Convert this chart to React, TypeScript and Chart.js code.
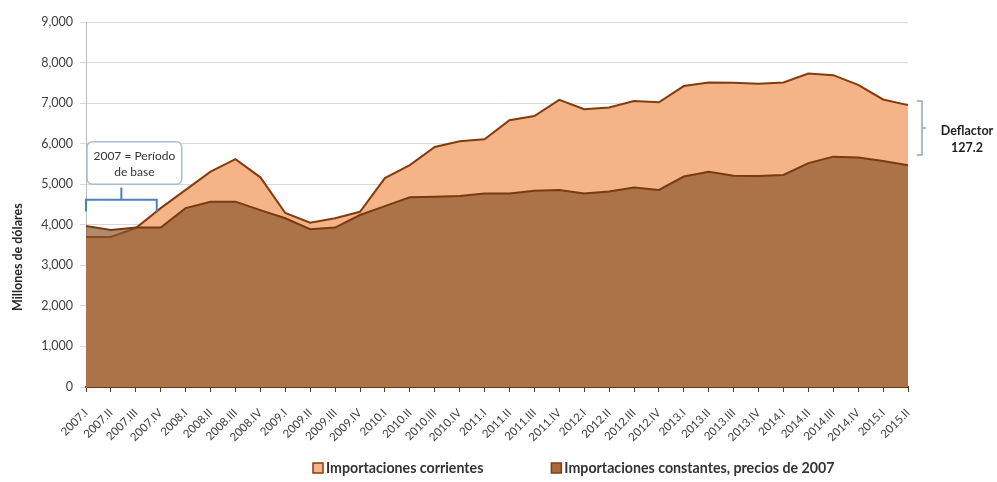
import React, { useEffect, useRef } from 'react';
import { Chart, registerables } from 'chart.js';

Chart.register(...registerables);

const categories = [
  '2007.I', '2007.II', '2007.III', '2007.IV',
  '2008.I', '2008.II', '2008.III', '2008.IV',
  '2009.I', '2009.II', '2009.III', '2009.IV',
  '2010.I', '2010.II', '2010.III', '2010.IV',
  '2011.I', '2011.II', '2011.III', '2011.IV',
  '2012.I', '2012.II', '2012.III', '2012.IV',
  '2013.I', '2013.II', '2013.III', '2013.IV',
  '2014.I', '2014.II', '2014.III', '2014.IV',
  '2015.I', '2015.II',
];

const corrientes = [
  3700, 3700, 3920, 4410,
  4860, 5310, 5620, 5170,
  4290, 4050, 4160, 4320,
  5150, 5470, 5920, 6060,
  6110, 6580, 6680, 7080,
  6850, 6890, 7050, 7020,
  7420, 7510, 7500, 7480,
  7510, 7730, 7690, 7450,
  7090, 6950,
];

const constantes = [
  3970, 3870, 3930, 3930,
  4410, 4570, 4570, 4360,
  4160, 3890, 3930, 4240,
  4460, 4680, 4690, 4710,
  4770, 4770, 4840, 4860,
  4770, 4820, 4920, 4860,
  5190, 5310, 5210, 5200,
  5230, 5520, 5680, 5660,
  5570, 5470,
];

const yTicks = [0, 1000, 2000, 3000, 4000, 5000, 6000, 7000, 8000, 9000];

const seriesNames = ['Importaciones corrientes', 'Importaciones constantes, precios de 2007'];
const yTitle = 'Millones de dólares';
const baseNote = ['2007 = Período', 'de base'];
const deflactorNote = ['Deflactor', '127.2'];

const FONT = 'Lato, "Open Sans", sans-serif';
const PEACH = '#F5B388';
const BROWN_LEGEND = '#A8693C';
const EDGE = '#843C0C';

const annotationPlugin = {
  id: 'notes',
  afterDraw(chart: any) {
    const { ctx, chartArea, scales } = chart;
    const x = scales.x;
    const y = scales.y;
    ctx.save();

    // Y axis title
    ctx.save();
    ctx.translate(18, y.getPixelForValue(3200));
    ctx.rotate(-Math.PI / 2);
    ctx.fillStyle = '#262626';
    ctx.font = `bold 12.5px ${FONT}`;
    ctx.textAlign = 'center';
    ctx.textBaseline = 'middle';
    ctx.fillText(yTitle, 0, 0);
    ctx.restore();

    // Base-period note box
    const bx0 = x.getPixelForValue(0) + 1;
    const bx1 = x.getPixelForValue(3) + 21;
    const by0 = y.getPixelForValue(6050);
    const by1 = y.getPixelForValue(5000);
    const r = 6;
    ctx.beginPath();
    ctx.moveTo(bx0 + r, by0);
    ctx.lineTo(bx1 - r, by0);
    ctx.quadraticCurveTo(bx1, by0, bx1, by0 + r);
    ctx.lineTo(bx1, by1 - r);
    ctx.quadraticCurveTo(bx1, by1, bx1 - r, by1);
    ctx.lineTo(bx0 + r, by1);
    ctx.quadraticCurveTo(bx0, by1, bx0, by1 - r);
    ctx.lineTo(bx0, by0 + r);
    ctx.quadraticCurveTo(bx0, by0, bx0 + r, by0);
    ctx.closePath();
    ctx.fillStyle = '#ffffff';
    ctx.fill();
    ctx.strokeStyle = '#A9BCD6';
    ctx.lineWidth = 1.5;
    ctx.stroke();

    ctx.fillStyle = '#333333';
    ctx.font = `12px ${FONT}`;
    ctx.textAlign = 'center';
    ctx.textBaseline = 'middle';
    const cx = (bx0 + bx1) / 2;
    ctx.fillText(baseNote[0], cx, by0 + 14);
    ctx.fillText(baseNote[1], cx, by0 + 30);

    // Base bracket
    const kx0 = x.getPixelForValue(0);
    const kx1 = x.getPixelForValue(3) - 4;
    const ky = y.getPixelForValue(4620);
    const kyDown = y.getPixelForValue(4330);
    const kyUp = y.getPixelForValue(4920);
    const kmid = (kx0 + kx1) / 2;
    ctx.strokeStyle = '#4F7FBF';
    ctx.lineWidth = 2;
    ctx.beginPath();
    ctx.moveTo(kx0, kyDown);
    ctx.lineTo(kx0, ky);
    ctx.lineTo(kx1, ky);
    ctx.lineTo(kx1, kyDown);
    ctx.moveTo(kmid, ky);
    ctx.lineTo(kmid, kyUp);
    ctx.stroke();

    // Deflactor bracket
    const dx = chartArea.right + 14;
    const dTop = y.getPixelForValue(7050);
    const dBot = y.getPixelForValue(5720);
    const dMid = (dTop + dBot) / 2;
    ctx.strokeStyle = '#8FA6C6';
    ctx.lineWidth = 1.5;
    ctx.beginPath();
    ctx.moveTo(dx - 5, dTop);
    ctx.lineTo(dx, dTop);
    ctx.lineTo(dx, dBot);
    ctx.lineTo(dx - 5, dBot);
    ctx.moveTo(dx, dMid);
    ctx.lineTo(dx + 4, dMid);
    ctx.stroke();

    ctx.fillStyle = '#1f1f1f';
    ctx.font = `bold 12.5px ${FONT}`;
    ctx.textAlign = 'center';
    ctx.fillText(deflactorNote[0], dx + 45, dMid + 3);
    ctx.fillText(deflactorNote[1], dx + 45, dMid + 20);

    // Legend
    const legendY = chart.height - 14;
    const fills = [PEACH, BROWN_LEGEND];
    ctx.font = `bold 14.2px ${FONT}`;
    ctx.textAlign = 'left';
    ctx.textBaseline = 'middle';
    let lx = chartArea.left + 227;
    seriesNames.forEach((name, i) => {
      ctx.fillStyle = fills[i];
      ctx.fillRect(lx, legendY - 5, 10, 10);
      ctx.strokeStyle = EDGE;
      ctx.lineWidth = 1.5;
      ctx.strokeRect(lx, legendY - 5, 10, 10);
      ctx.fillStyle = '#333333';
      ctx.fillText(name, lx + 13, legendY);
      lx += 13 + ctx.measureText(name).width + 68;
    });

    ctx.restore();
  },
};

export default function App() {
  const ref = useRef<HTMLCanvasElement | null>(null);

  useEffect(() => {
    document.body.style.margin = '0';
    const canvas = ref.current;
    if (!canvas) return;
    const chart = new Chart(canvas, {
      type: 'line',
      data: {
        labels: categories,
        datasets: [
          {
            label: seriesNames[0],
            data: corrientes,
            borderColor: EDGE,
            backgroundColor: PEACH,
            borderWidth: 2,
            pointRadius: 0,
            tension: 0,
            fill: 'origin',
            order: 2,
          },
          {
            label: seriesNames[1],
            data: constantes,
            borderColor: '#7A3A10',
            backgroundColor: 'rgba(138,84,42,0.68)',
            borderWidth: 2,
            pointRadius: 0,
            tension: 0,
            fill: 'origin',
            order: 1,
          },
        ],
      },
      options: {
        animation: false,
        responsive: true,
        maintainAspectRatio: false,
        layout: { padding: { top: 22, right: 89, left: 0, bottom: 0 } },
        plugins: {
          tooltip: { enabled: false },
          legend: { display: false },
        },
        scales: {
          x: {
            offset: false,
            afterFit: (scale: any) => {
              scale.height = 95;
            },
            grid: {
              display: true,
              drawOnChartArea: false,
              drawTicks: true,
              tickLength: 5,
              color: '#5a3a20',
            },
            border: { color: '#6B3414', width: 2 },
            ticks: {
              autoSkip: false,
              maxRotation: 45,
              minRotation: 45,
              font: { family: FONT, size: 11.5 },
              color: '#404040',
              padding: 14,
            },
          },
          y: {
            min: 0,
            max: 9000,
            afterBuildTicks: (scale: any) => {
              scale.ticks = yTicks.map((v) => ({ value: v }));
            },
            afterFit: (scale: any) => {
              scale.width = 86;
            },
            grid: {
              color: '#D9D9D9',
              tickLength: 6,
            },
            border: { color: '#BFBFBF', width: 1 },
            ticks: {
              font: { family: FONT, size: 12.5 },
              color: '#404040',
              padding: 7,
              callback: (v: any) => Number(v).toLocaleString('en-US'),
            },
          },
        },
      },
      plugins: [annotationPlugin],
    });
    return () => chart.destroy();
  }, []);

  return (
    <div style={{ position: 'absolute', left: 0, top: 0, width: 997, height: 482, background: '#ffffff' }}>
      <canvas ref={ref} />
    </div>
  );
}
